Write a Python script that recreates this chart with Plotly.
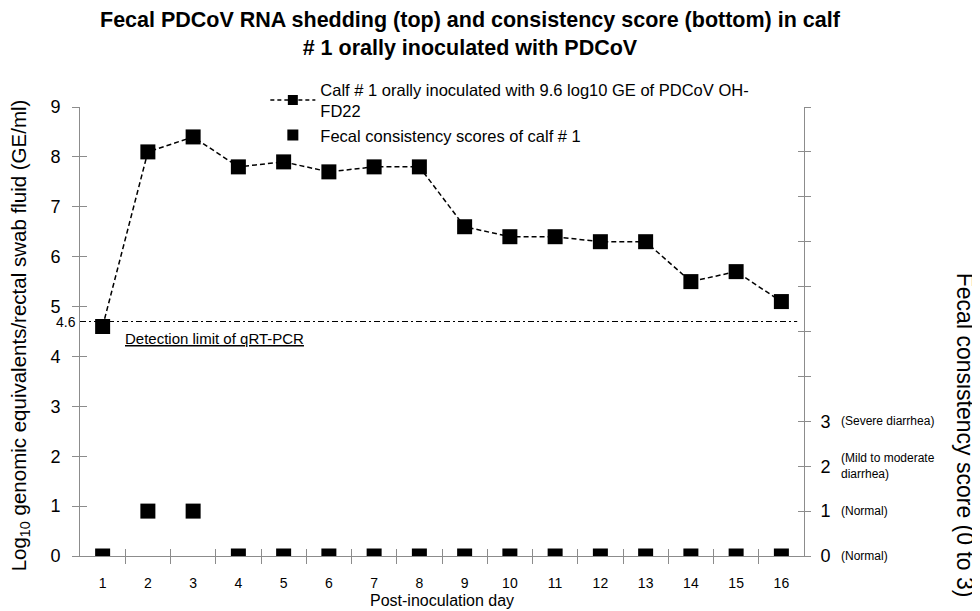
import plotly.graph_objects as go

days = list(range(1, 17))
rna_log10 = [4.6, 8.1, 8.4, 7.8, 7.9, 7.7, 7.8, 7.8, 6.6, 6.4, 6.4, 6.3, 6.3, 5.5, 5.7, 5.1]
scores = [0, 1, 1, 0, 0, 0, 0, 0, 0, 0, 0, 0, 0, 0, 0, 0]
detection_line = 4.7
detection_label = "4.6"
score_ticks = [0, 1, 2, 3]
score_desc = ["(Normal)", "(Normal)", "(Mild to moderate<br>diarrhea)", "(Severe diarrhea)"]
left_ticks = list(range(0, 10))
right_ticks = list(range(0, 11))
half_days = [d + 0.5 for d in range(1, 16)]
name_rna = "Calf # 1 orally inoculated with 9.6 log10 GE of PDCoV OH-<br>FD22"
name_score = "Fecal consistency scores of calf # 1"

FONT = "Arial, Liberation Sans, sans-serif"
AX = "#8c8c8c"

fig = go.Figure()
fig.add_trace(go.Scatter(
    x=days, y=rna_log10, mode="lines+markers", name=name_rna, showlegend=False,
    line=dict(color="black", dash="5px,3px", width=1.5),
    marker=dict(symbol="square", size=15, color="black"),
))
fig.add_trace(go.Scatter(
    x=days, y=scores, mode="markers", yaxis="y2", name=name_score, showlegend=False,
    marker=dict(symbol="square", size=15, color="black"),
))
# legend entries (smaller symbols, like the reference legend)
fig.add_trace(go.Scatter(x=[None], y=[None], mode="lines+markers", name=name_rna,
                         line=dict(color="black", dash="4px,3px", width=1.5),
                         marker=dict(symbol="square", size=10, color="black")))
fig.add_trace(go.Scatter(x=[None], y=[None], mode="markers", name=name_score,
                         marker=dict(symbol="square", size=11, color="black")))
# dummy traces for overlay tick axes
fig.add_trace(go.Scatter(x=[None], y=[None], xaxis="x2", yaxis="y3", showlegend=False, hoverinfo="skip"))
fig.add_trace(go.Scatter(x=[None], y=[None], xaxis="x2", yaxis="y4", showlegend=False, hoverinfo="skip"))

fig.add_shape(type="line", xref="x", yref="y", x0=0.5, x1=16.35, y0=detection_line, y1=detection_line,
              line=dict(color="black", dash="6px,3px,2px,3px", width=1.2))

annotations = [
    dict(text="<b>Fecal PDCoV RNA shedding (top) and consistency score (bottom) in calf<br># 1 orally inoculated with PDCoV</b>",
         xref="paper", yref="paper", x=0.540, y=1, xanchor="center", yanchor="bottom", yshift=45,
         showarrow=False, font=dict(size=21.5, family=FONT, color="black")),
    dict(text=detection_label, xref="paper", yref="y", x=0, y=detection_line, xanchor="right",
         xshift=-2, showarrow=False, font=dict(size=14, family=FONT, color="black")),
    dict(text="<u>Detection limit of qRT-PCR</u>", xref="x", yref="y", x=1.45, y=detection_line,
         yshift=-17, xanchor="left", showarrow=False, font=dict(size=15, family=FONT, color="black")),
    dict(text="Log<sub>10</sub> genomic equivalents/rectal swab fluid (GE/ml)", xref="paper", yref="paper",
         x=-0.0825, y=0.492, xanchor="center", yanchor="middle", textangle=-90, showarrow=False,
         font=dict(size=20.5, family=FONT, color="black")),
    dict(text="Post-inoculation day", xref="paper", yref="paper", x=0.5, y=-0.098, yanchor="middle",
         showarrow=False, font=dict(size=16, family=FONT, color="black")),
    dict(text="Fecal consistency score (0 to 3)", xref="paper", yref="paper", x=1.2224, y=0.27,
         xanchor="center", yanchor="middle", textangle=90, showarrow=False,
         font=dict(size=23, family=FONT, color="black")),
]
for s, d in zip(score_ticks, score_desc):
    annotations.append(dict(text=d, xref="paper", yref="y2", x=1.048, y=s, xanchor="left", align="left",
                            showarrow=False, font=dict(size=12, family=FONT, color="black")))

fig.update_layout(
    width=972, height=603,
    margin=dict(l=72, r=176, t=99, b=55),
    paper_bgcolor="white", plot_bgcolor="white",
    font=dict(family=FONT, color="black"),
    showlegend=True,
    legend=dict(x=0.256, y=1.078, xanchor="left", yanchor="top", bgcolor="rgba(0,0,0,0)",
                font=dict(size=16.5, family=FONT, color="black"), tracegroupgap=0, itemwidth=45),
    xaxis=dict(range=[0.5, 16.5], tickvals=days, ticks="", ticklabelstandoff=14,
               tickfont=dict(size=14, family=FONT, color="black"),
               showline=True, linecolor=AX, linewidth=1, showgrid=False, zeroline=False,
               minor=dict(tickvals=half_days, ticks="outside", ticklen=7, tickcolor=AX, showgrid=False)),
    xaxis2=dict(range=[0.5, 16.5], overlaying="x", anchor="y", tickvals=half_days, ticks="inside", ticklen=7,
                tickcolor=AX, showticklabels=False, showgrid=False, zeroline=False, showline=False),
    yaxis=dict(range=[0, 9], tickvals=left_ticks, ticks="outside", ticklen=7, tickcolor=AX,
               ticklabelstandoff=8, tickfont=dict(size=18, family=FONT, color="black"),
               showline=True, linecolor=AX, linewidth=1, showgrid=False, zeroline=False),
    yaxis2=dict(range=[0, 10], overlaying="y", side="right", tickvals=score_ticks,
                ticks="outside", ticklen=6, tickcolor=AX, ticklabelstandoff=6,
                tickfont=dict(size=18, family=FONT, color="black"),
                minor=dict(tickvals=right_ticks, ticks="outside", ticklen=6, tickcolor=AX, showgrid=False),
                showline=True, linecolor=AX, linewidth=1, showgrid=False, zeroline=False),
    yaxis3=dict(range=[0, 9], overlaying="y", side="left", tickvals=left_ticks, ticks="inside", ticklen=7,
                tickcolor=AX, showticklabels=False, showgrid=False, zeroline=False, showline=False),
    yaxis4=dict(range=[0, 10], overlaying="y", side="right", tickvals=right_ticks, ticks="inside", ticklen=6,
                tickcolor=AX, showticklabels=False, showgrid=False, zeroline=False, showline=False),
    annotations=annotations,
)

fig.write_html("out.html")
